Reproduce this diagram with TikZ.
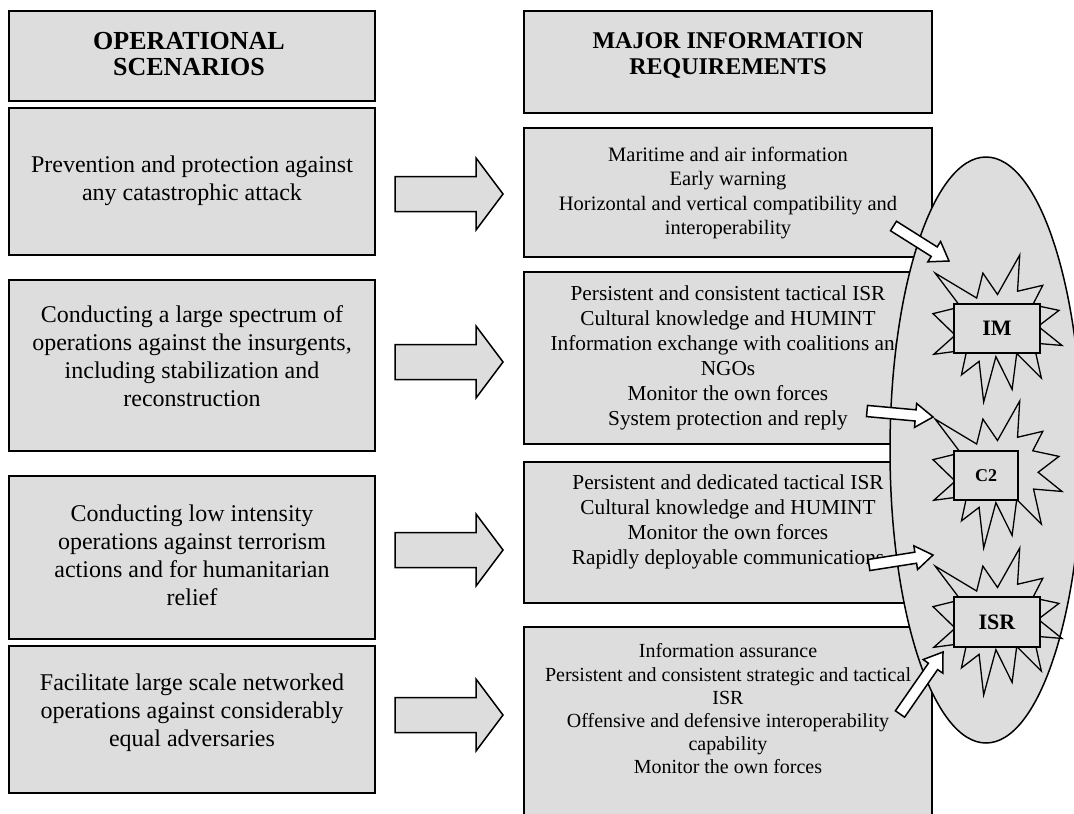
\documentclass[tikz,border=0pt]{standalone}
\usepackage{fontspec}
\setmainfont{Liberation Serif}
\usetikzlibrary{calc,shapes.geometric}
\definecolor{boxgray}{RGB}{221,221,221}
\newcommand\myblockarrow[6]{%
  \coordinate (ba-h) at ($(#3)!#6!(#2)$);
  \draw[#1] ($(#2)!#4!90:(#3)$) -- ($(ba-h)!#4!90:(#3)$) -- ($(ba-h)!#5!90:(#3)$)
     -- (#3) -- ($(ba-h)!#5!-90:(#3)$) -- ($(ba-h)!#4!-90:(#3)$) -- ($(#2)!#4!-90:(#3)$) -- cycle;}
\begin{document}
\begin{tikzpicture}[x=1pt,y=-1pt,
  lbox/.style={draw=black, line width=2pt, fill=boxgray, inner sep=0pt, outer sep=0pt},
  rbox/.style={draw=black, line width=1.8pt, fill=boxgray, inner sep=0pt, outer sep=0pt},
  ltext/.style={align=center, inner sep=0pt, font=\fontsize{24}{28}\selectfont},
  rtext/.style={align=center, inner sep=0pt, font=\fontsize{21.3}{25}\selectfont},
  htext/.style={align=center, inner sep=0pt, font=\bfseries\fontsize{26}{26}\selectfont},
  bigarrow/.style={draw=black, line width=1.5pt, fill=boxgray, line join=miter},
  smallarrow/.style={draw=black, line width=1.5pt, fill=white, line join=miter},
  sbline/.style={draw=black, line width=1.3pt, fill=boxgray, line join=miter},
  sbbox/.style={draw=black, line width=2pt, fill=boxgray, inner sep=0pt, font=\bfseries\fontsize{22}{24}\selectfont},
  explosion/.pic={
    \begin{scope}[xscale=0.5972,yscale=0.6806]
      \path[sbline] (108,58) -- (145.22,0) -- (141.55,53.25) -- (183.80,44.57) -- (167.02,73.15)
        -- (210.97,81.37) -- (176.07,104.75) -- (216,132.90) -- (168.37,129.42) -- (181.45,180.95)
        -- (140.20,144.57) -- (132.47,197.37) -- (105.32,149.35) -- (84.85,216) -- (77.15,156.27)
        -- (47.62,176.17) -- (56.67,139.37) -- (1.35,145.87) -- (37.22,117.75) -- (0,86.15)
        -- (46.27,76.17) -- (3.70,26.67) -- (73.12,63.20) -- (83.52,26.60) -- cycle;
    \end{scope}}
]
\useasboundingbox (0,0) rectangle (1074,814);
\fill[white] (0,0) rectangle (1074,814);

% left column
\node[lbox, minimum width=366pt, minimum height=90pt]  (LH) at (192,56) {};
\node[lbox, minimum width=366pt, minimum height=147pt] (L1) at (192,181.5) {};
\node[lbox, minimum width=366pt, minimum height=171pt] (L2) at (192,365.5) {};
\node[lbox, minimum width=366pt, minimum height=163pt] (L3) at (192,557.5) {};
\node[lbox, minimum width=366pt, minimum height=147pt] (L4) at (192,719.5) {};
\node[htext] (LHt) at (189,54) {OPERATIONAL\\SCENARIOS};
\node[ltext] (L1t) at (192,181) {Prevention and protection against\\any catastrophic attack};
\node[ltext] (L2t) at (192,356) {Conducting a large spectrum of\\operations against the insurgents,\\including stabilization and\\reconstruction};
\node[ltext] (L3t) at (192,555) {Conducting low intensity\\operations against terrorism\\actions and for humanitarian\\relief};
\node[ltext] (L4t) at (192,713) {Facilitate large scale networked\\operations against considerably\\equal adversaries};

% right column
\node[rbox, minimum width=408pt, minimum height=102pt] (RH) at (728,62) {};
\node[rbox, minimum width=408pt, minimum height=129pt] (R1) at (728,192.5) {};
\node[rbox, minimum width=408pt, minimum height=172pt] (R2) at (728,358) {};
\node[rbox, minimum width=408pt, minimum height=141pt] (R3) at (728,532.5) {};
\node[rbox, minimum width=408pt, minimum height=203pt] (R4) at (728,728.5) {};
\node[htext, font=\bfseries\fontsize{24}{26}\selectfont] (RHt) at (728,55) {MAJOR INFORMATION\\REQUIREMENTS};
\node[rtext, font=\fontsize{20.5}{24.5}\selectfont] (R1t) at (728,193) {Maritime and air information\\Early warning\\Horizontal and vertical compatibility and\\interoperability};
\node[rtext] (R2t) at (728,358) {Persistent and consistent tactical ISR\\Cultural knowledge and HUMINT\\Information exchange with coalitions and\\NGOs\\Monitor the own forces\\System protection and reply};
\node[rtext] (R3t) at (728,522) {Persistent and dedicated tactical ISR\\Cultural knowledge and HUMINT\\Monitor the own forces\\Rapidly deployable communications};
\node[rtext, font=\fontsize{20}{23.2}\selectfont] (R4t) at (728,709) {Information assurance\\Persistent and consistent strategic and tactical\\ISR\\Offensive and defensive interoperability\\capability\\Monitor the own forces};

% big arrows
\foreach \i/\yy in {1/194,2/362,3/550,4/715}{
  \coordinate (A\i s) at (395,\yy);
  \coordinate (A\i e) at (503,\yy);
  \myblockarrow{bigarrow}{A\i s}{A\i e}{17.5pt}{36pt}{27pt}
}

% ellipse
\node[ellipse, draw=black, line width=1.5pt, fill=boxgray, minimum width=192pt, minimum height=586pt, inner sep=0pt] (CL) at (986,450) {};

% starbursts
\pic at (933,255) {explosion};
\pic at (933,401) {explosion};
\pic at (933,548) {explosion};
\node[sbbox, minimum width=86pt, minimum height=49pt] (IM) at (997,328.5) {IM};
\node[sbbox, minimum width=64pt, minimum height=49pt, font=\bfseries\fontsize{18}{20}\selectfont] (C2) at (986,475.5) {C2};
\node[sbbox, minimum width=86pt, minimum height=50pt] (ISR) at (997,622) {ISR};

% small arrows
\coordinate (a1s) at (893.5,226); \coordinate (a1e) at (949,261);
\coordinate (a2s) at (867,411);   \coordinate (a2e) at (933,417);
\coordinate (a3s) at (869,565);   \coordinate (a3e) at (933,555);
\coordinate (a4s) at (900,714);   \coordinate (a4e) at (943,652);
\myblockarrow{smallarrow}{a1s}{a1e}{5.6pt}{12pt}{17.5pt}
\myblockarrow{smallarrow}{a2s}{a2e}{5.6pt}{12pt}{17.5pt}
\myblockarrow{smallarrow}{a3s}{a3e}{5.6pt}{12pt}{17.5pt}
\myblockarrow{smallarrow}{a4s}{a4e}{5.6pt}{12pt}{17.5pt}
\end{tikzpicture}
\end{document}
